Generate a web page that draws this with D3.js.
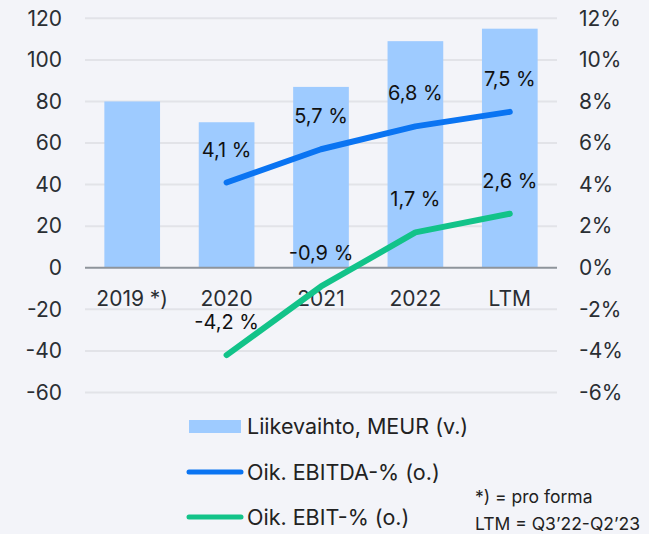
<!DOCTYPE html>
<html>
<head>
<meta charset="utf-8">
<script src="https://cdn.jsdelivr.net/npm/d3@7"></script>
<style>
  body { margin: 0; background: #f3f4f9; }
  svg { display: block; font-family: Inter, Lato, sans-serif; }
</style>
</head>
<body>
<svg id="chart" width="649" height="534"></svg>
<script>
// data
const categories = ["2019 *)", "2020", "2021", "2022", "LTM"];
const revenue = [80, 70, 87, 109, 115];
const ebitdaPct = [null, 4.1, 5.7, 6.8, 7.5];
const ebitPct = [null, -4.2, -0.9, 1.7, 2.6];
const leftTicks = [-60, -40, -20, 0, 20, 40, 60, 80, 100, 120];
const rightTicks = [-6, -4, -2, 0, 2, 4, 6, 8, 10, 12];

const barColor = "#9ecbff",
    ebitdaColor = "#0a74f2",
    ebitColor = "#12c389",
    gridColor = "#e2e3e8",
    textColor = "#2a2e33";

const svg = d3.select("#chart");
const plotLeft = 85, plotRight = 557, plotTop = 18.3, plotBottom = 392.5;
const tickSize = 21;

const x = d3.scaleBand().domain(categories).range([plotLeft, plotRight]).paddingInner(0.41).paddingOuter(0.205);
const yL = d3.scaleLinear().domain([-60, 120]).range([plotBottom, plotTop]);
const yR = d3.scaleLinear().domain([-6, 12]).range([plotBottom, plotTop]);
const cx = (c) => x(c) + x.bandwidth() / 2;

// grid lines
svg.append("g").selectAll("line")
    .data(leftTicks.filter(d => d !== 0))
    .join("line")
    .attr("x1", plotLeft).attr("x2", plotRight)
    .attr("y1", d => yL(d)).attr("y2", d => yL(d))
    .attr("stroke", gridColor).attr("stroke-width", 2);

// left axis
const axL = svg.append("g")
    .attr("transform", "translate(" + 62 + ",0)")
    .call(d3.axisLeft(yL).tickValues(leftTicks).tickSize(0).tickPadding(0).tickFormat(d => String(d)));
axL.select(".domain").remove();
axL.attr("font-family", null).attr("font-size", tickSize);
axL.selectAll("text").attr("fill", textColor);

// right axis
const axR = svg.append("g")
    .attr("transform", "translate(" + 579 + ",0)")
    .call(d3.axisRight(yR).tickValues(rightTicks).tickSize(0).tickPadding(0).tickFormat(d => d + "%"));
axR.select(".domain").remove();
axR.attr("font-family", null).attr("font-size", tickSize);
axR.selectAll("text").attr("fill", textColor);

// bars
svg.append("g").selectAll("rect")
    .data(categories)
    .join("rect")
    .attr("x", d => x(d))
    .attr("width", x.bandwidth())
    .attr("y", (d, i) => yL(revenue[i]))
    .attr("height", (d, i) => yL(0) - yL(revenue[i]))
    .attr("fill", barColor);

// baseline
svg.append("line")
    .attr("x1", plotLeft).attr("x2", plotRight)
    .attr("y1", yL(0)).attr("y2", yL(0))
    .attr("stroke", "#8e949b").attr("stroke-width", 2);

// category labels
svg.append("g").selectAll("text")
    .data(categories)
    .join("text")
    .attr("x", d => cx(d))
    .attr("y", yL(0) + 38)
    .attr("text-anchor", "middle")
    .attr("font-size", tickSize)
    .attr("fill", textColor)
    .text(d => d);

// lines
const fmt = (v) => String(v).replace(".", ",") + " %";
const drawLine = (vals, color) => {
    const pts = categories.map((c, i) => [c, vals[i]]).filter(p => p[1] !== null);
    svg.append("path")
        .datum(pts)
        .attr("fill", "none")
        .attr("stroke", color)
        .attr("stroke-width", 6)
        .attr("stroke-linecap", "round")
        .attr("stroke-linejoin", "round")
        .attr("d", d3.line().x(p => cx(p[0])).y(p => yR(p[1])));
    svg.append("g").selectAll("text")
        .data(pts)
        .join("text")
        .attr("x", p => cx(p[0]))
        .attr("y", p => yR(p[1]) - 26)
        .attr("text-anchor", "middle")
        .attr("font-size", 20)
        .attr("fill", "#111")
        .text(p => fmt(p[1]));
};
drawLine(ebitdaPct, ebitdaColor);
drawLine(ebitPct, ebitColor);

// legend
const lg = svg.append("g").attr("font-size", 21.5).attr("fill", "#222");
lg.append("rect").attr("x", 189).attr("y", 420).attr("width", 52).attr("height", 13).attr("fill", barColor);
lg.append("text").attr("x", 247).attr("y", 434).text("Liikevaihto, MEUR (v.)");
lg.append("line").attr("x1", 189).attr("x2", 241).attr("y1", 472).attr("y2", 472)
    .attr("stroke", ebitdaColor).attr("stroke-width", 5).attr("stroke-linecap", "round");
lg.append("text").attr("x", 247).attr("y", 480).text("Oik. EBITDA-% (o.)");
lg.append("line").attr("x1", 189).attr("x2", 241).attr("y1", 517).attr("y2", 517)
    .attr("stroke", ebitColor).attr("stroke-width", 5).attr("stroke-linecap", "round");
lg.append("text").attr("x", 247).attr("y", 525).text("Oik. EBIT-% (o.)");

// footnote
const fn = svg.append("g").attr("font-size", 17.5).attr("fill", "#222");
fn.append("text").attr("x", 475).attr("y", 503).text("*) = pro forma");
fn.append("text").attr("x", 475).attr("y", 530).text("LTM = Q3\u201922-Q2\u201923");
</script>
</body>
</html>
